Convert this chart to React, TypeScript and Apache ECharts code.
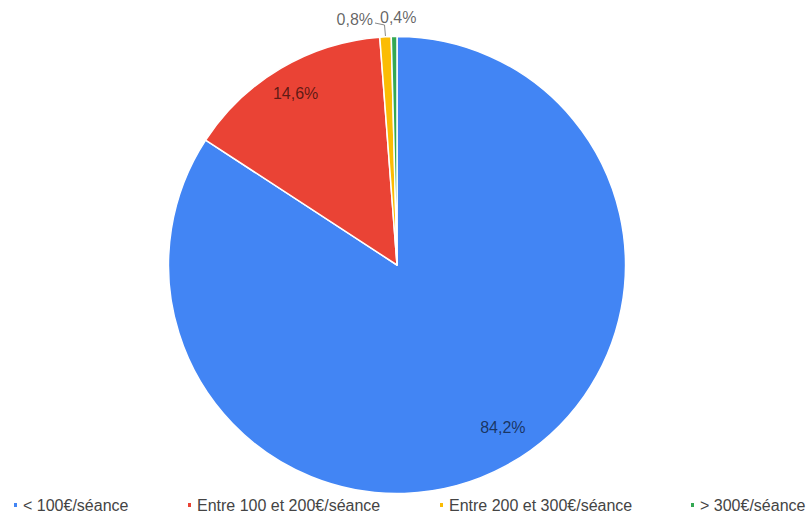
import React, { useEffect, useRef } from "react";
import * as echarts from "echarts";

const categories = [
  "< 100€/séance",
  "Entre 100 et 200€/séance",
  "Entre 200 et 300€/séance",
  "> 300€/séance",
];
const values = [84.2, 14.6, 0.8, 0.4];
const colors = ["#4285F4", "#EA4335", "#FBBC04", "#34A853"];
const legendLefts = [12, 186, 438, 689];

const FONT = "Arial, 'Liberation Sans', sans-serif";
const CX = 397;
const CY = 265;
const R = 228.5;

const fmt = (v: number) => v.toFixed(1).replace(".", ",") + "%";

export default function App() {
  const ref = useRef<HTMLDivElement>(null);

  useEffect(() => {
    if (!ref.current) return;
    const chart = echarts.init(ref.current, undefined, { renderer: "svg" });
    const total = values.reduce((a, b) => a + b, 0);
    const midAngles: number[] = [];
    let acc = 0;
    values.forEach((v) => {
      midAngles.push(((acc + v / 2) / total) * Math.PI * 2);
      acc += v;
    });

    const labelLayout = (params: any) => {
      const i = params.dataIndex;
      if (i === 0) {
        const a = midAngles[0] - 0.08;
        const d = R * 0.85;
        return { x: CX + d * Math.sin(a), y: CY - d * Math.cos(a), align: "center", verticalAlign: "middle" };
      }
      if (i === 1) {
        const a = midAngles[1];
        const d = R * 0.872;
        return { x: CX + d * Math.sin(a), y: CY - d * Math.cos(a), align: "center", verticalAlign: "middle" };
      }
      if (i === 2) {
        const a = midAngles[2];
        const ex = CX + R * Math.sin(a);
        const ey = CY - R * Math.cos(a);
        return {
          x: 373,
          y: 19,
          align: "right",
          verticalAlign: "middle",
          labelLinePoints: [
            [ex, ey],
            [ex - 1, 25],
            [375, 23],
          ],
        };
      }
      return { x: 380, y: 17, align: "left", verticalAlign: "middle" };
    };

    const legends = categories.map((c, i) => ({
      data: [c],
      left: legendLefts[i],
      top: 497,
      padding: 0,
      icon: "rect",
      itemWidth: 5,
      itemHeight: 6,
      selectedMode: false,
      textStyle: { fontFamily: FONT, fontSize: 16, color: "#444" },
    }));

    chart.setOption({
      animation: false,
      backgroundColor: "#ffffff",
      color: colors,
      legend: legends,
      series: [
        {
          type: "pie",
          center: [CX, CY],
          radius: R,
          startAngle: 90,
          clockwise: true,
          silent: true,
          avoidLabelOverlap: false,
          itemStyle: { borderColor: "#ffffff", borderWidth: 1.5 },
          label: {
            show: true,
            fontFamily: FONT,
            fontSize: 16,
            color: "rgba(0,0,0,0.62)",
            formatter: (p: any) => fmt(p.value),
          },
          labelLine: {
            lineStyle: { color: "#888", width: 1 },
          },
          labelLayout,
          data: categories.map((name, i) => ({
            name,
            value: values[i],
            label: { position: i < 2 ? "inside" : "outside" },
            labelLine: { show: i === 2, length: 5, length2: 8 },
          })),
        },
      ],
    });
    return () => chart.dispose();
  }, []);

  return (
    <div
      ref={ref}
      style={{ position: "fixed", left: 0, top: 0, width: 807, height: 513, background: "#fff" }}
    />
  );
}
